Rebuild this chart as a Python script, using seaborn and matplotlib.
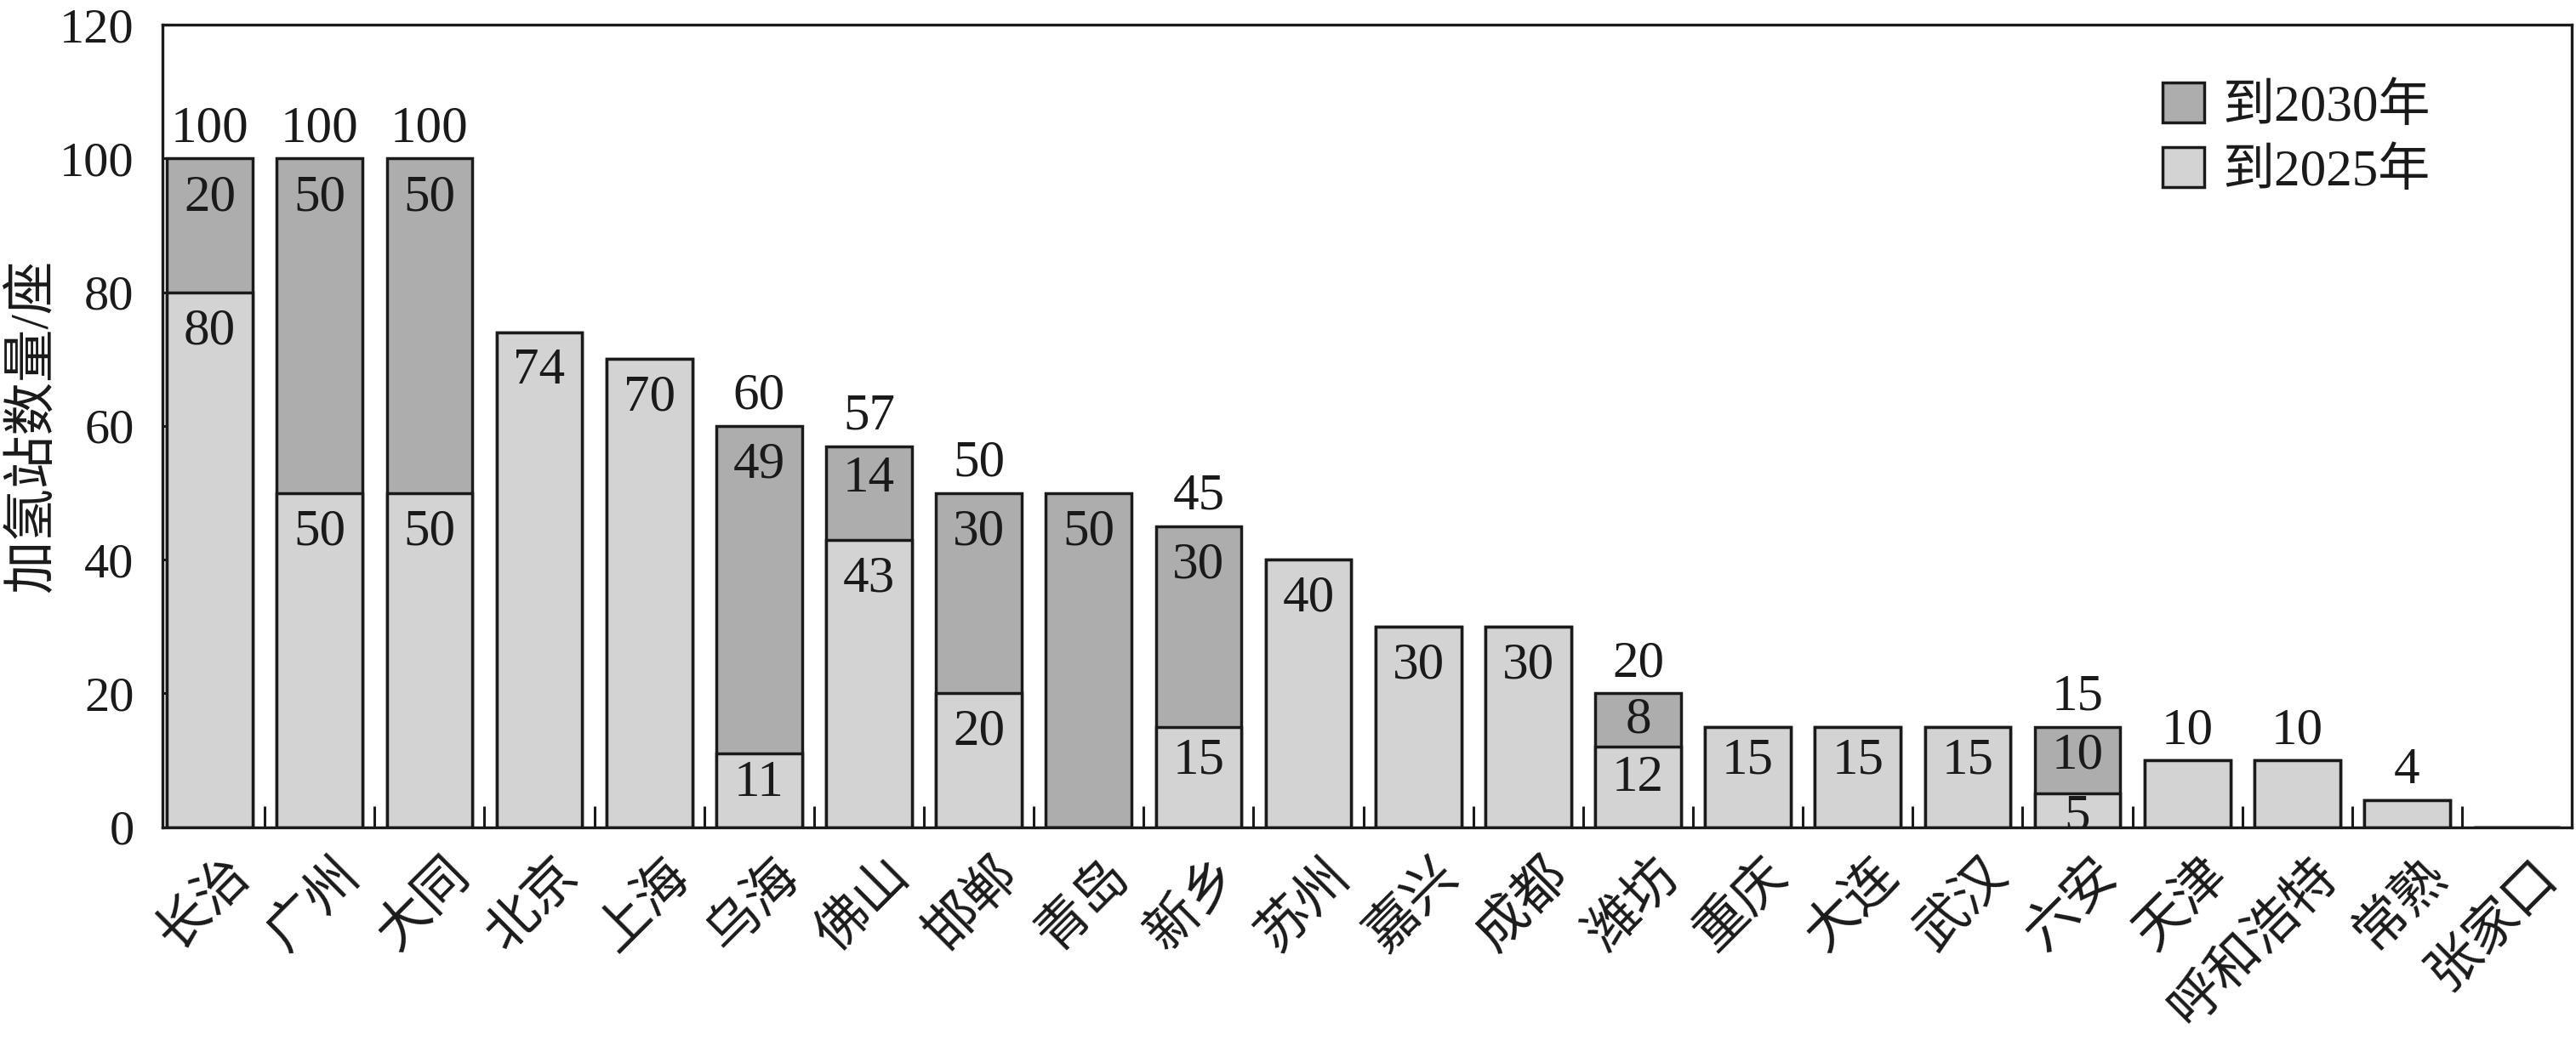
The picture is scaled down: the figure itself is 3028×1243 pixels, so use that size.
import numpy as np
import pandas as pd
import matplotlib
matplotlib.use('Agg')
import matplotlib.pyplot as plt
import matplotlib.transforms as mtransforms
import seaborn as sns
from matplotlib.patches import Patch

cities = ['长治', '广州', '大同', '北京', '上海', '乌海', '佛山', '邯郸', '青岛', '新乡', '苏州',
          '嘉兴', '成都', '潍坊', '重庆', '大连', '武汉', '六安', '天津', '呼和浩特', '常熟', '张家口']
by2025 = [80, 50, 50, 74, 70, 11, 43, 20, 0, 15, 40, 30, 30, 12, 15, 15, 15, 5, 10, 10, 4, 0]
add2030 = [20, 50, 50, 0, 0, 49, 14, 30, 50, 30, 0, 0, 0, 8, 0, 0, 0, 10, 0, 0, 0, 0]
series_names = ['到2030年', '到2025年']
y_ticks = [0, 20, 40, 60, 80, 100, 120]
y_label = '加氢站数量/座'

LIGHT = '#d3d3d3'
DARK = '#adadad'
EDGE = '#1a1a1a'
FS = 42      # tick numbers
FS_VAL = 44  # value labels
FS_CJK = 45  # chinese labels

sns.set_style('white')
plt.rcParams['font.family'] = ['Liberation Serif', 'Noto Sans CJK SC']
plt.rcParams['axes.unicode_minus'] = False

df = pd.DataFrame({'city': cities, 'y2025': by2025, 'add': add2030})
df['total'] = df['y2025'] + df['add']

fig = plt.figure(figsize=(30.28, 12.43), dpi=100)
ax = fig.add_axes([0.0631, 0.2175, 0.9353, 0.759])

bw = 0.78
lw = 2.5
sns.barplot(data=df, x='city', y='total', color=DARK, saturation=1, width=bw,
            edgecolor=EDGE, linewidth=lw, errorbar=None, ax=ax)
sns.barplot(data=df, x='city', y='y2025', color=LIGHT, saturation=1, width=bw,
            edgecolor=EDGE, linewidth=lw, errorbar=None, ax=ax)

n = len(cities)
ax.set_xlim(-0.43, n - 0.5)
ax.set_ylim(0, 120)
ax.set_yticks(y_ticks)
ax.set_yticklabels([str(v) for v in y_ticks])
ax.set_xticks(range(n))
ax.set_xticklabels(cities, rotation=45, ha='right', va='top', rotation_mode='anchor')
ax.set_xticks(np.arange(0.5, n - 1, 1), minor=True)
ax.tick_params(axis='x', which='major', length=0, pad=20, labelsize=FS_CJK, colors=EDGE)
ax.tick_params(axis='x', which='minor', direction='in', length=18, width=2.2, color=EDGE, bottom=True)
ax.tick_params(axis='y', which='major', direction='in', length=7, width=2.2, pad=24,
               labelsize=FS, colors=EDGE, left=True)
shift = mtransforms.ScaledTranslation(0.18, 0, fig.dpi_scale_trans)
for lab in ax.get_xticklabels():
    lab.set_transform(lab.get_transform() + shift)
ax.set_xlabel('')
ax.set_ylabel(y_label, fontsize=FS_CJK, color=EDGE)
ax.yaxis.set_label_coords(-0.043, 0.5)
for s in ax.spines.values():
    s.set_visible(True)
    s.set_color(EDGE)
    s.set_linewidth(2.4)


def in_off(seg):
    # text sits closer to the top edge for short segments
    return -min(13.0, max(0.0, (seg - 5) * 0.9))


UP_OFF = 5


def put_inside(i, top, seg):
    ax.annotate(str(seg), (i, top), xytext=(0, in_off(seg)), textcoords='offset points',
                ha='center', va='top', fontsize=FS_VAL, color=EDGE, clip_on=True)


def put_above(i, top, val):
    ax.annotate(str(val), (i, top), xytext=(0, UP_OFF), textcoords='offset points',
                ha='center', va='bottom', fontsize=FS_VAL, color=EDGE)


for i in range(n):
    a = by2025[i]
    b = add2030[i]
    tot = a + b
    if a > 0 and b > 0:
        put_above(i, tot, tot)
        put_inside(i, tot, b)
        put_inside(i, a, a)
    elif tot > 0:
        if tot >= 15:
            put_inside(i, tot, tot)
        else:
            put_above(i, tot, tot)

handles = [Patch(facecolor=DARK, edgecolor=EDGE, linewidth=lw, label=series_names[0]),
           Patch(facecolor=LIGHT, edgecolor=EDGE, linewidth=lw, label=series_names[1])]
leg = ax.legend(handles=handles, loc='upper left', bbox_to_anchor=(0.83, 0.928),
                frameon=False, fontsize=FS + 2, handlelength=0.8, handleheight=0.8,
                handletextpad=0.35, labelspacing=0.3, borderpad=0, borderaxespad=0)
for t in leg.get_texts():
    t.set_color(EDGE)

fig.savefig('out.png', dpi=100, facecolor='white')
